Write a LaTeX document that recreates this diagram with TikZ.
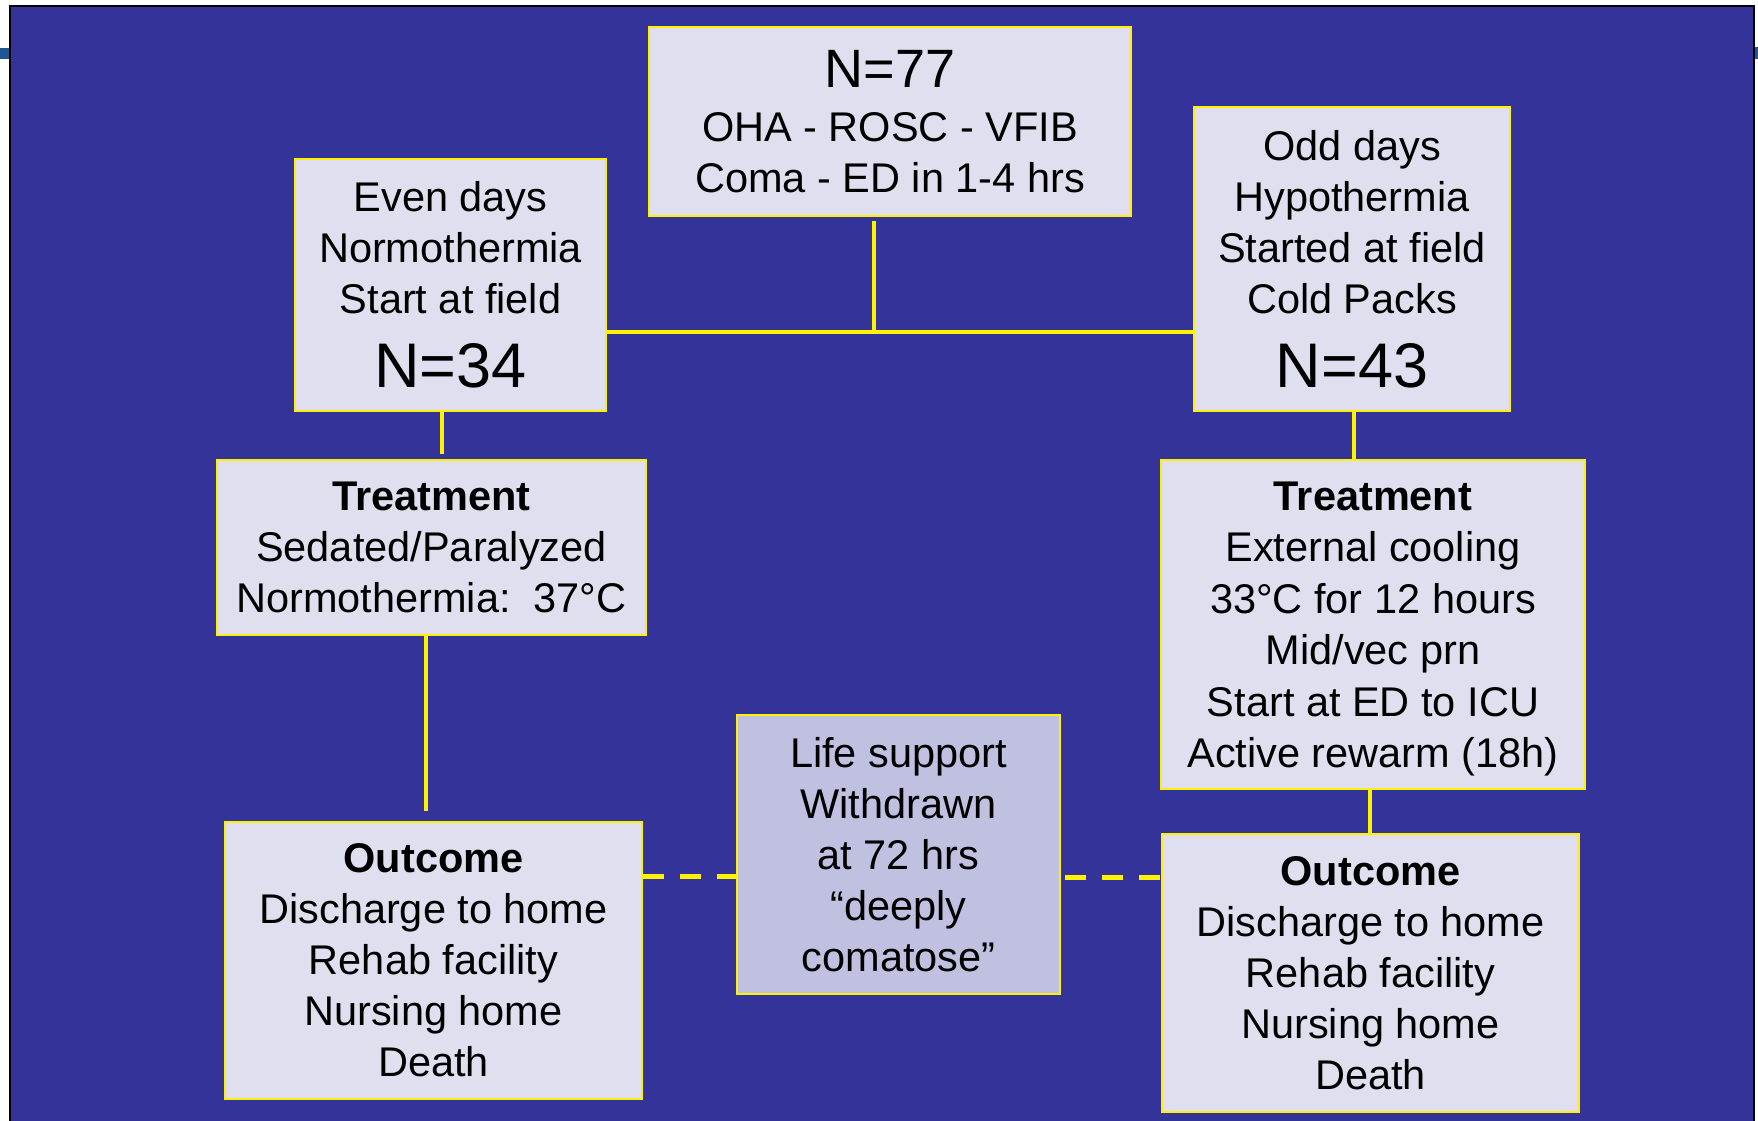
\documentclass[tikz,border=0pt]{standalone}
\usepackage{fontspec}
\setmainfont{Liberation Sans}
\definecolor{slideblue}{RGB}{51,51,153}
\definecolor{boxfill}{RGB}{223,223,239}
\definecolor{withdrawfill}{RGB}{192,192,224}
\definecolor{stripblue}{RGB}{30,88,148}
\newcommand{\bignum}[2]{{\fontsize{#1}{#1}\selectfont #2}}
\tikzset
{
    process/.style={rectangle, draw=yellow, line width=2pt, fill=boxfill, align=center, inner sep=0pt, text=black, font=\fontsize{41.5}{51}\selectfont},
    branch/.style={yellow, line width=4.8pt},
    dashbranch/.style={yellow, line width=5pt, dash pattern=on 21pt off 16pt}
}
\begin{document}
\begin{tikzpicture}[x=1pt, y=-1pt]
	\useasboundingbox (0,0) rectangle (1758,1121);
	\fill [white] (0,0) rectangle (1758,1121);
	\fill [stripblue] (0,48) rectangle (10,59);
	\fill [stripblue] (1754,47) rectangle (1758,59);
	\fill [slideblue] (10,6) rectangle (1754,1121);
	\draw [black, line width=1.5pt] (10,1121) -- (10,6) -- (1754,6) -- (1754,1121);

	\node (all) [process, minimum width=482pt, minimum height=189pt] at (890,121.5) {\bignum{54}{N=77}\\[3pt]OHA - ROSC - VFIB\\Coma - ED in 1-4 hrs};
	\node (even) [process, minimum width=311pt, minimum height=252pt] at (450.5,285) {Even days\\Normothermia\\Start at field\\[23pt]\bignum{63}{N=34}};
	\node (odd) [process, minimum width=316pt, minimum height=304pt] at (1352,259) {Odd days\\Hypothermia\\Started at field\\Cold Packs\\[23pt]\bignum{63}{N=43}};
	\node (treatL) [process, minimum width=429pt, minimum height=175pt] at (431.5,547.5) {\textbf{Treatment}\\Sedated/Paralyzed\\Normothermia:\ \ 37°C};
	\node (treatR) [process, minimum width=424pt, minimum height=329pt, font=\fontsize{41.5}{51.5}\selectfont, text depth=0pt] at (1373,624.5) {\textbf{Treatment}\\External cooling\\33°C for 12 hours\\Mid/vec prn\\Start at ED to ICU\\Active rewarm (18h)};
	\node (outL) [process, minimum width=417pt, minimum height=277pt] at (433.5,960) {\textbf{Outcome}\\Discharge to home\\Rehab facility\\Nursing home\\Death};
	\node (outR) [process, minimum width=417pt, minimum height=278pt] at (1370.5,973) {\textbf{Outcome}\\Discharge to home\\Rehab facility\\Nursing home\\Death};
	\node (wd) [process, fill=withdrawfill, minimum width=323pt, minimum height=279pt] at (898.5,854.5) {Life support\\Withdrawn\\at 72 hrs\\“deeply\\comatose”};

	\coordinate (split) at (874,332);
	\draw [branch] (split |- all.south) ++(0,4) -- (split);
	\draw [branch] (even.east |- split) -- (odd.west |- split);
	\draw [branch, shorten >=5pt] ([xshift=-8.5pt]even.south) -- ([xshift=-8.5pt]even.south |- treatL.north);
	\draw [branch, shorten >=10pt] ([xshift=-5.5pt]treatL.south) -- ([xshift=-5.5pt]treatL.south |- outL.north);
	\draw [branch] ([xshift=2pt]odd.south) -- ([xshift=2pt]odd.south |- treatR.north);
	\draw [branch] ([xshift=-3pt]treatR.south) -- ([xshift=-3pt]treatR.south |- outR.north);
	\draw [dashbranch] ([yshift=84pt]outL.east) -- ([yshift=84pt]outL.east -| wd.west);
	\draw [dashbranch, shorten <=4pt] ([yshift=96pt]outR.west -| wd.east) -- ([yshift=96pt]outR.west);

\end{tikzpicture}
\end{document}
